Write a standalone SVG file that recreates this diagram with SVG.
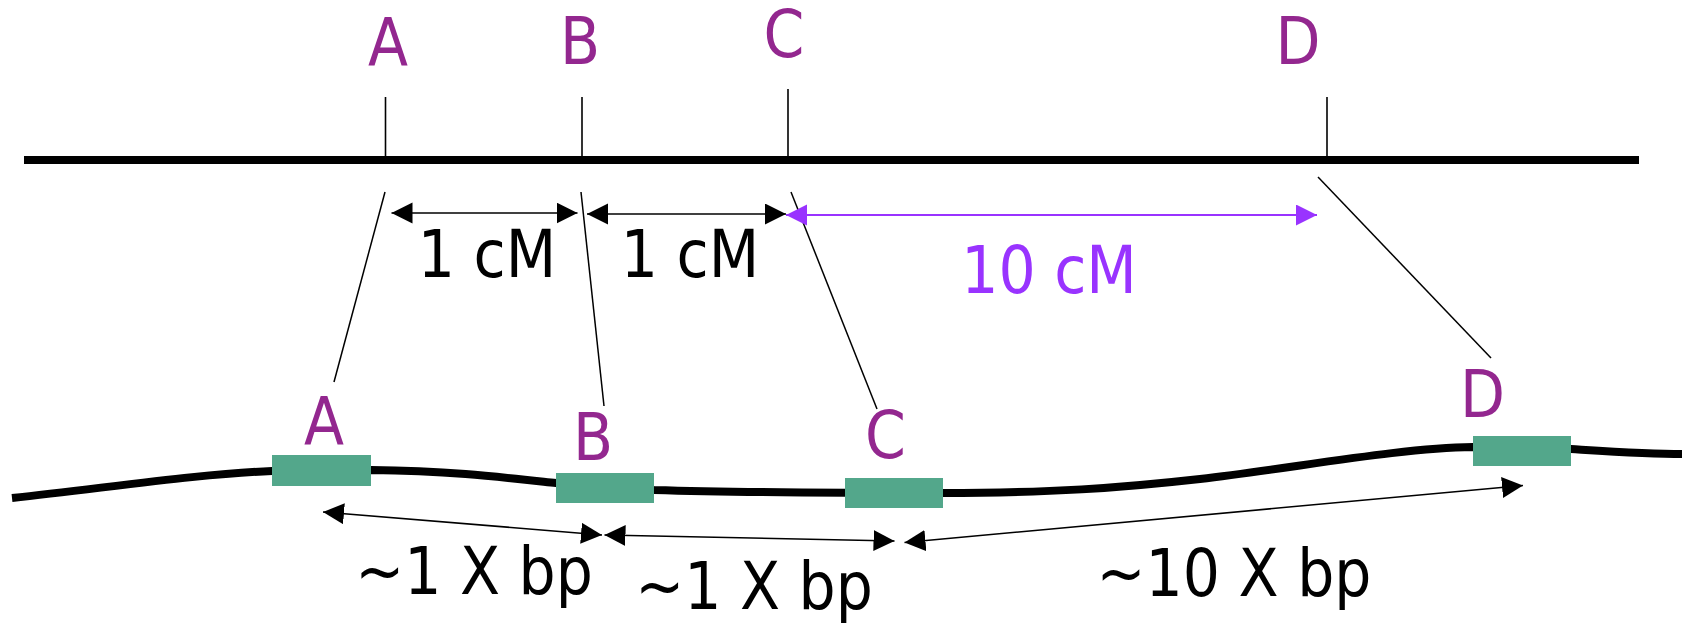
<svg xmlns="http://www.w3.org/2000/svg" width="1682" height="623" viewBox="0 0 1682 623">
<style>
.lbl{font-family:"DejaVu Sans Condensed","DejaVu Sans",sans-serif;font-size:65px;fill:#93278F;text-anchor:middle}
.txt{font-family:"DejaVu Sans Condensed","DejaVu Sans",sans-serif;font-size:65px;fill:#000;text-anchor:middle}
.vio{fill:#9933FF}
.tick{stroke:#000;stroke-width:1.6;fill:none}
.conn{stroke:#000;stroke-width:1.5;fill:none}
.arr{stroke:#000;stroke-width:1.6;fill:none;marker-start:url(#ah);marker-end:url(#ah)}
.arrv{stroke:#9933FF;stroke-width:2.2;fill:none;marker-start:url(#ahv);marker-end:url(#ahv)}
.gene{fill:#53A78B}
</style>
<defs>
<marker id="ah" markerUnits="userSpaceOnUse" markerWidth="22" markerHeight="22" refX="21" refY="10.5" orient="auto-start-reverse"><path d="M0,0 L21,10.5 L0,21 z" fill="#000"/></marker>
<marker id="ahv" markerUnits="userSpaceOnUse" markerWidth="22" markerHeight="22" refX="21" refY="10.5" orient="auto-start-reverse"><path d="M0,0 L21,10.5 L0,21 z" fill="#9933FF"/></marker>
</defs>
<rect width="1682" height="623" fill="#fff"/>
<g id="genetic-map">
<line x1="24" y1="160" x2="1639" y2="160" stroke="#000" stroke-width="8"/>
</g>
<g id="map-A"><line class="tick" x1="385.5" y1="97" x2="385.5" y2="160"/><text class="lbl" x="388" y="65">A</text></g>
<g id="map-B"><line class="tick" x1="582" y1="97" x2="582" y2="160"/><text class="lbl" x="580" y="64">B</text></g>
<g id="map-C"><line class="tick" x1="788" y1="89" x2="788" y2="160"/><text class="lbl" x="784" y="57">C</text></g>
<g id="map-D"><line class="tick" x1="1327" y1="97" x2="1327" y2="160"/><text class="lbl" x="1298" y="64">D</text></g>
<g id="dna">
<path d="M12,498 C120,486 200,474 272,471 L371,470 C450,471 500,477 556,483 L654,490 C720,492 800,493 943,493 C1050,493 1120,488 1200,479 C1300,467 1400,448 1473,447 L1571,449 C1620,452 1650,454 1682,454" stroke="#000" stroke-width="8" fill="none"/>
</g>
<g id="gene-A"><rect class="gene" x="272" y="455" width="99" height="31"/><text class="lbl" x="324" y="444">A</text></g>
<g id="gene-B"><rect class="gene" x="556" y="473" width="98" height="30"/><text class="lbl" x="593" y="460">B</text></g>
<g id="gene-C"><rect class="gene" x="845" y="478" width="98" height="30"/><text class="lbl" x="885.5" y="458">C</text></g>
<g id="gene-D"><rect class="gene" x="1473" y="436" width="98" height="30"/><text class="lbl" x="1482.5" y="417">D</text></g>
<g id="connectors">
<line class="conn" x1="385" y1="192" x2="334" y2="382"/>
<line class="conn" x1="581" y1="192" x2="604" y2="406"/>
<line class="conn" x1="791" y1="192" x2="877" y2="409"/>
<line class="conn" x1="1318" y1="177" x2="1491" y2="358"/>
<line class="arr" x1="391.5" y1="213" x2="577.5" y2="213"/>
<line class="arr" x1="587" y1="214" x2="786" y2="214"/>
<line class="arrv" x1="786" y1="215" x2="1317" y2="215"/>
<line class="arr" x1="323" y1="512" x2="602" y2="535"/>
<line class="arr" x1="604.5" y1="535" x2="894.5" y2="541"/>
<line class="arr" x1="904.5" y1="542.5" x2="1523" y2="485.5"/>
</g>
<g id="labels">
<text class="txt" x="487" y="277">1 cM</text>
<text class="txt" x="690" y="277">1 cM</text>
<text class="txt vio" x="1049" y="293">10 cM</text>
<text class="txt" x="474" y="594">~1 X bp</text>
<text class="txt" x="754" y="609">~1 X bp</text>
<text class="txt" x="1234" y="596">~10 X bp</text>
</g>
</svg>
